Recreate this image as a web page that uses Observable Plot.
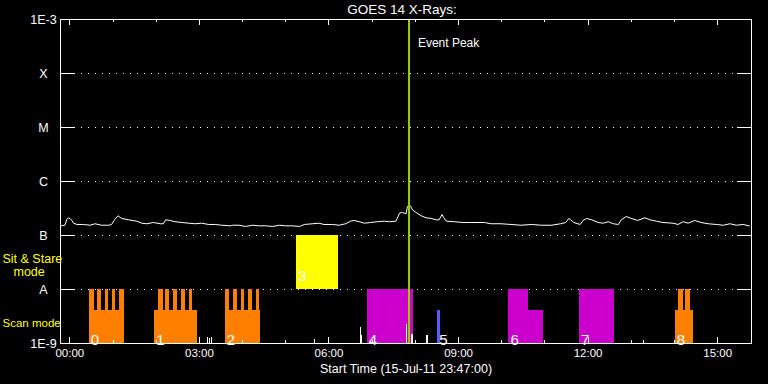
<!DOCTYPE html>
<html><head><meta charset="utf-8">
<script src="https://cdn.jsdelivr.net/npm/d3@7"></script>
<script src="https://cdn.jsdelivr.net/npm/@observablehq/plot@0.6"></script>
<style>
html,body{margin:0;padding:0;background:#000;}
#chart svg{display:block}
</style></head><body><div id="chart"></div>
<script>
// ---------- data ----------
const title = "GOES 14 X-Rays:";
const xLabel = "Start Time (15-Jul-11 23:47:00)";
const startTime = "23:47", endTime = "15:47";
const levelValues = [1e-9, 1e-8, 1e-7, 1e-6, 1e-5, 1e-4, 1e-3];
const levelLabels = ["1E-9", "A", "B", "C", "M", "X", "1E-3"];
const classLevels = [1e-8, 1e-7, 1e-6, 1e-5, 1e-4];
const hourTicks = ["00:00","01:00","02:00","03:00","04:00","05:00","06:00","07:00",
                   "08:00","09:00","10:00","11:00","12:00","13:00","14:00","15:00"];
const labeledTicks = ["00:00","03:00","06:00","09:00","12:00","15:00"];

// GOES 14 long channel (flux in units of 1e-7 W/m^2)
const goesTime = [
 "23:48","23:53","23:56","23:58","00:01","00:03","00:05","00:10","00:19","00:28",
 "00:35","00:44","00:54","00:58","01:02","01:07","01:12","01:22","01:33","01:40",
 "01:47","01:56","02:06","02:10","02:13","02:19","02:26","02:36","02:45","02:54",
 "03:03","03:13","03:22","03:31","03:43","03:46","03:55","04:04","04:14","04:23",
 "04:32","04:42","04:51","05:00","05:09","05:19","05:26","05:37","05:46","05:53",
 "06:05","06:14","06:23","06:30","06:35","06:42","06:49","06:58","07:07","07:17",
 "07:24","07:33","07:38","07:42","07:47","07:49","07:53","07:56","08:01","08:08",
 "08:15","08:22","08:29","08:33","08:37","08:39","08:43","08:54","09:06","09:17",
 "09:36","09:45","09:59","10:13","10:27","10:41","10:55","11:09","11:22","11:29",
 "11:33","11:36","11:40","11:49","11:53","11:58","12:05","12:14","12:21","12:28",
 "12:35","12:42","12:46","12:53","13:00","13:09","13:19","13:26","13:35","13:44",
 "13:58","14:05","14:12","14:19","14:28","14:37","14:47","14:58","15:08","15:17",
 "15:26","15:35","15:44"];
const goesFlux = [
 1.51,1.55,2.00,2.13,2.00,1.90,1.69,1.60,1.60,1.55,
 1.65,1.55,1.55,1.60,1.95,2.32,2.07,1.95,1.84,1.69,
 1.65,1.74,1.65,1.65,1.95,1.90,1.80,1.74,1.69,1.65,
 1.69,1.60,1.60,1.55,1.51,1.55,1.55,1.47,1.55,1.51,
 1.51,1.47,1.55,1.51,1.51,1.47,1.60,1.65,1.69,1.60,
 1.60,1.55,1.65,1.84,1.90,1.80,1.69,1.74,1.80,1.84,
 1.80,1.84,2.59,2.67,2.52,3.44,3.55,2.99,2.67,2.32,
 2.13,2.07,1.95,1.95,2.45,2.18,1.84,1.80,1.74,1.74,
 1.74,1.65,1.65,1.60,1.55,1.60,1.55,1.55,1.65,1.74,
 2.07,1.95,1.74,1.60,1.90,2.07,1.95,1.74,1.69,1.80,
 1.65,1.60,1.95,2.25,2.07,1.90,2.13,1.95,1.84,1.74,
 1.69,1.60,1.80,1.69,1.90,1.74,1.65,1.60,1.55,1.65,
 1.55,1.60,1.51];

// observations
const obsLabel = ["0","1","2","3","4","5","6","7","8"];
const obsType  = ["scan","scan","scan","stare","other","cal","other","other","scan"];
const obsStart = ["00:27","01:58","03:36","05:15","06:53","08:31","10:10","11:48","14:01"];
const obsEnd   = ["01:16","02:57","04:25","06:13","07:57","08:35","10:58","12:37","14:26"];

// observation segments (rasters): obs index, start, end, level
const segObs   = [0,0,0,0,0,0, 1,1,1,1,1,1, 2,2,2,2,2,2, 3, 4, 5, 6,6, 7, 8,8,8];
const segStart = ["00:27","00:27","00:38","00:49","00:59","01:09",
                  "01:58","02:03","02:13","02:24","02:35","02:46",
                  "03:36","03:36","03:47","03:58","04:08","04:19",
                  "05:15","06:53","08:31","10:10","10:37","11:48",
                  "14:01","14:05","14:15"];
const segEnd   = ["01:16","00:34","00:44","00:54","01:04","01:16",
                  "02:57","02:10","02:19","02:30","02:41","02:51",
                  "04:25","03:42","03:53","04:03","04:14","04:24",
                  "06:13","07:57","08:35","10:37","10:58","12:37",
                  "14:26","14:12","14:22"];
const segLevel = ["half","full","full","full","full","full",
                  "half","full","full","full","full","full",
                  "half","full","full","full","full","full",
                  "stare","full","half","full","half","full",
                  "half","full","full"];
const levelRange = {full: [1e-9, 1e-8], half: [1e-9, 4.1e-9], stare: [1e-8, 1e-7]};
const typeColor = {scan: "#ff8000", stare: "#ffff00", other: "#cc00cc", cal: "#5a5aff"};

// small white spikes at the bottom
const spikeTime = ["03:11","03:14","03:17","05:40","06:44","06:45","07:48","07:55","07:56","08:15","08:17","13:17"];
const spikeFlux = [1.3e-9,1.25e-9,1.3e-9,1.2e-9,2.0e-9,1.4e-9,2.25e-9,1.47e-9,1.47e-9,1.4e-9,1.4e-9,1.15e-9];

const eventPeakTime = "07:51";
const eventPeakLabel = "Event Peak";

// ---------- build ----------
const T = s => { const [h, m] = s.split(":").map(Number); return new Date(Date.UTC(2011, 6, h >= 20 ? 15 : 16, h, m)); };
const goes = goesTime.map((t, i) => ({t: T(t), f: goesFlux[i] * 1e-7}));
const segs = segObs.map((o, i) => ({t1: T(segStart[i]), t2: T(segEnd[i]), lv: levelRange[segLevel[i]], type: obsType[o]}));
const obs = obsLabel.map((l, i) => ({label: l, t: T(obsStart[i]), type: obsType[i]}));
const spikes = spikeTime.map((t, i) => ({t: T(t), f: spikeFlux[i]}));

const W = 768, H = 384, mL = 60, mR = 17, mT = 19, mB = 41;
const fw = W - mL - mR, fh = H - mT - mB;
const FONT = '"Liberation Sans", Arial, sans-serif';
const minorTicks = hourTicks.filter(h => !labeledTicks.includes(h));

const chart = Plot.plot({
  width: W, height: H,
  marginLeft: mL, marginRight: mR, marginTop: mT, marginBottom: mB,
  style: {background: "black", color: "white", fontFamily: FONT, fontSize: "12px", overflow: "visible"},
  x: {type: "utc", domain: [T(startTime), T(endTime)]},
  y: {type: "log", domain: [1e-9, 1e-3]},
  marks: [
    // dotted class gridlines
    Plot.ruleY(classLevels, {stroke: "white", insetLeft: 14, insetRight: 14, strokeDasharray: "1,6", shapeRendering: "crispEdges"}),
    // class ticks left and right
    Plot.ruleY(classLevels, {stroke: "white", insetRight: fw - 14, shapeRendering: "crispEdges"}),
    Plot.ruleY(classLevels, {stroke: "white", insetLeft: fw - 14, shapeRendering: "crispEdges"}),
    // observation bars
    Plot.rect(segs, {x1: "t1", x2: "t2", y1: d => d.lv[0], y2: d => d.lv[1], fill: d => typeColor[d.type], shapeRendering: "crispEdges"}),
    // spikes
    Plot.ruleX(spikes, {x: "t", y1: 1e-9, y2: "f", stroke: "white", shapeRendering: "crispEdges"}),
    // GOES curve
    Plot.line(goes, {x: "t", y: "f", stroke: "white", strokeWidth: 1}),
    // event peak
    Plot.ruleX([eventPeakTime], {x: T, stroke: "#99cc00", strokeWidth: 2, shapeRendering: "crispEdges"}),
    Plot.text([eventPeakLabel], {x: () => T(eventPeakTime), frameAnchor: "top", dy: 24, dx: 9, textAnchor: "start", lineAnchor: "middle", text: d => d, fill: "white", fontSize: 12}),
    // frame
    Plot.frame({stroke: "white", shapeRendering: "crispEdges"}),
    // x ticks (bottom, top)
    Plot.ruleX(labeledTicks, {x: T, stroke: "white", insetTop: fh - 6, shapeRendering: "crispEdges"}),
    Plot.ruleX(minorTicks, {x: T, stroke: "white", insetTop: fh - 3, shapeRendering: "crispEdges"}),
    Plot.ruleX(labeledTicks, {x: T, stroke: "white", insetBottom: fh - 6, shapeRendering: "crispEdges"}),
    Plot.ruleX(minorTicks, {x: T, stroke: "white", insetBottom: fh - 3, shapeRendering: "crispEdges"}),
    // axes
    Plot.axisX(labeledTicks.map(T), {tickSize: 0, tickPadding: 5, tickFormat: d3.utcFormat("%H:%M"), fontSize: 11.5, label: null}),
    Plot.axisY(levelValues, {tickSize: 0, tickPadding: 17, textAnchor: "middle", tickFormat: d => levelLabels[levelValues.indexOf(d)], fontSize: 12.5, label: null}),
    // observation numbers
    Plot.text(obs, {x: "t", y: 1e-9, text: "label", textAnchor: "start", lineAnchor: "bottom", dx: 1.5, dy: 1, fill: "white", fontSize: 15,
      filter: d => d.type !== "stare"}),
    Plot.text(obs, {x: "t", y: 1e-8, text: "label", textAnchor: "start", lineAnchor: "bottom", dx: 1.5, dy: -9, fill: "white", fontSize: 15,
      filter: d => d.type === "stare"}),
    // mode labels
    Plot.text(["Sit & Stare"], {frameAnchor: "left", y: Math.pow(10, -7.5), dx: -58, dy: -4, textAnchor: "start", lineAnchor: "middle", text: d => d, fill: "#ffff00", fontSize: 12.5}),
    Plot.text(["mode"], {frameAnchor: "left", y: Math.pow(10, -7.5), dx: -47, dy: 9, textAnchor: "start", lineAnchor: "middle", text: d => d, fill: "#ffff00", fontSize: 12.5}),
    Plot.text(["Scan mode"], {frameAnchor: "left", y: Math.pow(10, -8.5), dx: -58, dy: 7, textAnchor: "start", lineAnchor: "middle", text: d => d, fill: "#ffff00", fontSize: 11.5}),
    // title and x label
    Plot.text([title], {frameAnchor: "top", dy: -10, dx: -4, lineAnchor: "middle", text: d => d, fill: "white", fontSize: 13.5}),
    Plot.text([xLabel], {frameAnchor: "bottom", dy: 25, lineAnchor: "middle", text: d => d, fill: "white", fontSize: 12.5})
  ]
});
document.getElementById("chart").appendChild(chart);
</script></body></html>
